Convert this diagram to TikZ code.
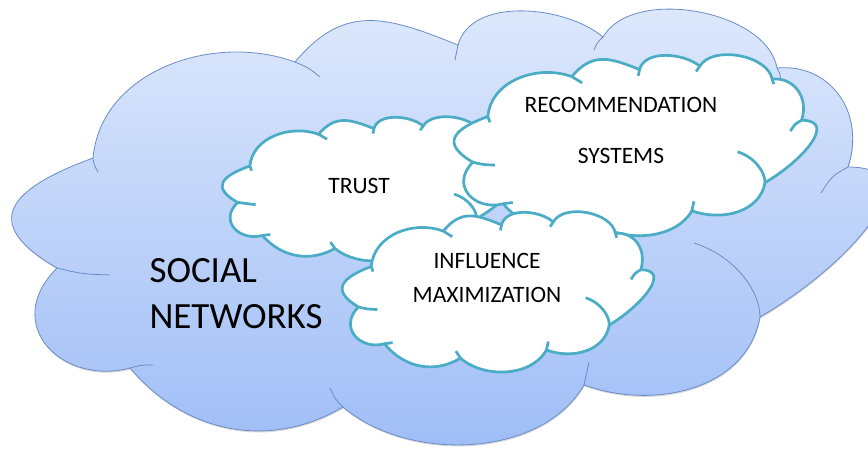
\documentclass[tikz,border=0pt]{standalone}
\usepackage{fontspec}
\setmainfont{Carlito}
\usetikzlibrary{shadows}
\definecolor{skyline}{HTML}{6A8DC8}
\definecolor{skytop}{HTML}{E0EAFC}
\definecolor{skybottom}{HTML}{9DBCF6}
\definecolor{puffline}{HTML}{4BACC6}
% one cloud outline, drawn at the size of the big cloud
\newcommand{\puffpath}{(93,293) .. controls (101,380) and (213,419) .. (295,389)
	.. controls (344.5,448) and (386.6,434.8) .. (458,406)
	.. controls (471,454.3) and (564.7,446.1) .. (603,414)
	.. controls (632.5,465) and (766.8,441) .. (777,383)
	.. controls (830,388) and (866,338.5) .. (848,284)
	.. controls (936,284) and (850,186) .. (760,134)
	.. controls (747,61) and (653.5,40.7) .. (584,66)
	.. controls (541.5,-7.6) and (408,-11.6) .. (343,44)
	.. controls (269.4,0.5) and (184.6,18) .. (130,83)
	.. controls (62.4,64.9) and (0.4,126.4) .. (57,183)
	.. controls (-21,228) and (8.4,262) .. (93,293) -- cycle}
\newcommand{\puffhooks}{(93,293) .. controls (94,286) .. (98,279)
	(295,389) .. controls (309,383) .. (320,374)
	(458,406) .. controls (456,398) .. (455,391)
	(603,414) .. controls (597,408) .. (594,401)
	(777,383) .. controls (780,377) .. (781,371)
	(848,284) .. controls (832,275) .. (821,258)
	(760,134) .. controls (760,160) and (735,195) .. (694,208)
	(584,66) .. controls (587,77) .. (589,89)
	(343,44) .. controls (335,52) .. (330,63)
	(130,83) .. controls (141,86) .. (153,86)
	(57,183) .. controls (82,177) .. (110,176)}
\tikzset{
	bigcloud/.style={draw=skyline, line width=0.8pt, top color=skytop, bottom color=skybottom,
		drop shadow={shadow xshift=0.5pt, shadow yshift=-1.5pt, opacity=0.25, fill=black!60}},
	bighook/.style={draw=skyline, line width=0.8pt},
	smallcloud/.style={draw=puffline, line width=2.7pt, fill=white, line join=round},
	smallhook/.style={draw=puffline, line width=2.7pt},
	bigtext/.style={font=\fontsize{37}{46}\selectfont, align=left},
	smalltext/.style={font=\fontsize{23.5}{34}\selectfont, align=center}
}
\begin{document}
	\begin{tikzpicture}[x=1pt, y=1pt]
		\useasboundingbox (0,0) rectangle (868,451);
		% social networks
		\path[bigcloud] \puffpath;
		\path[bighook] \puffhooks;
		% trust
		\begin{scope}[shift={(223,334)}, xscale=0.34, yscale=0.331, shift={(-14,-441)}]
			\path[smallcloud] \puffpath;
			\path[smallhook] \puffhooks;
		\end{scope}
		% recommendation systems
		\begin{scope}[shift={(455,396)}, xscale=0.4156, yscale=0.4155, shift={(-14,-441)}]
			\path[smallcloud] \puffpath;
			\path[smallhook] \puffhooks;
		\end{scope}
		% influence maximization
		\begin{scope}[shift={(343,239)}, xscale=0.357, yscale=0.368, shift={(-14,-441)}]
			\path[smallcloud] \puffpath;
			\path[smallhook] \puffhooks;
		\end{scope}
		\node[bigtext, anchor=west] (socialtext) at (146,157) {SOCIAL\\NETWORKS};
		\node[smalltext] (trusttext) at (359,265) {TRUST};
		\node[smalltext] (rectext) at (621,346) {RECOMMENDATION};
		\node[smalltext] (systext) at (621,295) {SYSTEMS};
		\node[smalltext] (inftext) at (487,173) {INFLUENCE\\MAXIMIZATION};
	\end{tikzpicture}
\end{document}
